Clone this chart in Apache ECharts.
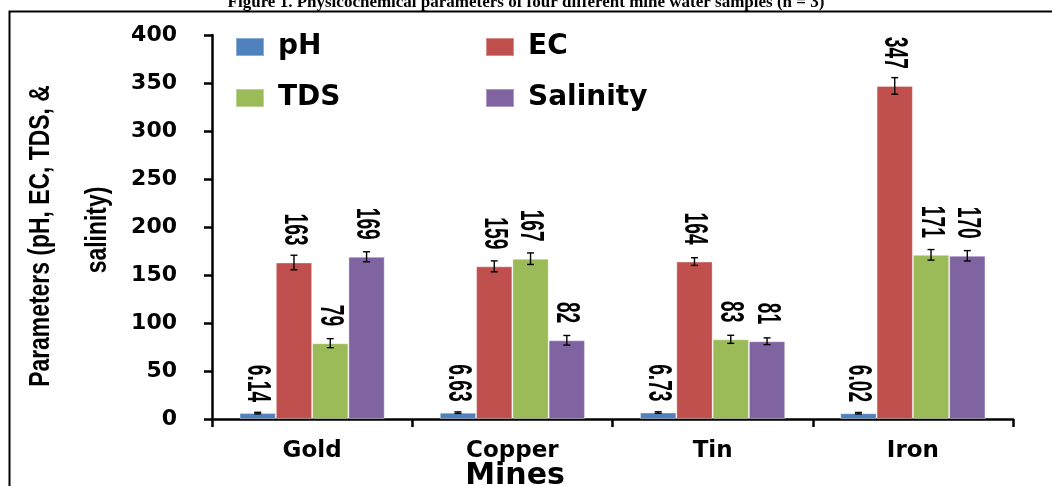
<!DOCTYPE html>
<html>
<head>
<meta charset="utf-8">
<title>Mine water parameters</title>
<script src="https://cdn.jsdelivr.net/npm/echarts@6/dist/echarts.min.js"></script>
<style>
  html, body { margin: 0; padding: 0; background: #fff; }
  #chart { width: 1052px; height: 486px; }
</style>
</head>
<body>
<div id="chart"></div>
<script>
// Mean values (n = 3) and standard deviations for each mine type
const categories = ['Gold', 'Copper', 'Tin', 'Iron'];
const seriesNames = ['pH', 'EC', 'TDS', 'Salinity'];
const phValues = [6.14, 6.63, 6.73, 6.02];
const phErrors = [0.8, 0.8, 0.8, 0.8];
const ecValues = [163, 159, 164, 347];
const ecErrors = [7.6, 5.7, 4.0, 8.6];
const tdsValues = [79, 167, 83, 171];
const tdsErrors = [4.7, 6.0, 4.2, 5.5];
const salinityValues = [169, 82, 81, 170];
const salinityErrors = [5.2, 5.0, 3.5, 5.4];
const yTicks = [0, 50, 100, 150, 200, 250, 300, 350, 400];
const yTitleLines = ['Parameters (pH, EC, TDS, &', 'salinity)'];

const colors = ['#4F81BD', '#C0504D', '#9BBB59', '#8064A2'];
const valueSets = [phValues, ecValues, tdsValues, salinityValues];
const errorSets = [phErrors, ecErrors, tdsErrors, salinityErrors];
const labelDistances = [11, 17, 17, 17];

const CAT_GAP = 0.275;          // share of each category left empty
const WIDE = "'DejaVu Sans', Verdana, sans-serif";
// condensed look: Liberation Sans Bold squeezed along the text direction
const NARROW_FONT = "bold 34px 'Liberation Sans', Arial, sans-serif";
const NARROW_SCALE = 0.565;

const chart = echarts.init(document.getElementById('chart'));

const barSeries = seriesNames.map((name, i) => ({
  name: name,
  type: 'bar',
  barGap: '0%',
  barCategoryGap: (CAT_GAP * 100) + '%',
  data: valueSets[i],
  itemStyle: {
    color: colors[i],
    borderColor: 'rgba(255,255,255,0.35)',
    borderWidth: 1
  },
  emphasis: { disabled: true }
}));

// Error bars and rotated value labels, offset to each bar's centre
const errorData = [];
seriesNames.forEach((name, s) => {
  categories.forEach((c, k) => {
    errorData.push([k, valueSets[s][k], errorSets[s][k], s]);
  });
});

const errorSeries = {
  type: 'custom',
  name: 'error',
  z: 5,
  silent: true,
  data: errorData,
  encode: { x: 0, y: 1 },
  renderItem: function (params, api) {
    const k = api.value(0);
    const v = api.value(1);
    const e = api.value(2);
    const s = api.value(3);
    const band = api.size([1, 0])[0];
    const barW = band * (1 - CAT_GAP) / seriesNames.length;
    const top = api.coord([k, v]);
    const x = top[0] + (s - (seriesNames.length - 1) / 2) * barW;
    const yHi = api.coord([k, v + e])[1];
    const yLo = api.coord([k, v - e])[1];
    const cap = 3.5;
    const style = { stroke: '#000', lineWidth: 1.4 };
    const text = s === 0 ? v.toFixed(2) : String(v);
    return {
      type: 'group',
      children: [
        { type: 'line', shape: { x1: x, y1: yHi, x2: x, y2: yLo }, style: style },
        { type: 'line', shape: { x1: x - cap, y1: yHi, x2: x + cap, y2: yHi }, style: style },
        { type: 'line', shape: { x1: x - cap, y1: yLo, x2: x + cap, y2: yLo }, style: style },
        {
          type: 'text',
          x: x,
          y: top[1] - labelDistances[s],
          rotation: -Math.PI / 2,
          scaleX: NARROW_SCALE,
          scaleY: 1,
          style: {
            text: text,
            font: NARROW_FONT,
            fill: '#000',
            align: 'right',
            verticalAlign: 'middle'
          }
        }
      ]
    };
  }
};

const legendSlots = [
  { left: 230, top: 28 },
  { left: 480, top: 28 },
  { left: 230, top: 79 },
  { left: 480, top: 79 }
];

const option = {
  animation: false,
  backgroundColor: '#fff',
  title: {
    text: 'Figure 1. Physicochemical parameters of four different mine water samples (n = 3)',
    left: 'center',
    top: -11,
    textStyle: {
      fontFamily: "'Liberation Serif', 'Times New Roman', serif",
      fontWeight: 'bold',
      fontSize: 17,
      color: '#000'
    }
  },
  legend: seriesNames.map((name, i) => ({
    data: [name],
    left: legendSlots[i].left,
    top: legendSlots[i].top,
    icon: 'rect',
    itemWidth: 28,
    itemHeight: 18,
    selectedMode: false,
    textStyle: {
      fontFamily: WIDE,
      fontWeight: 'bold',
      fontSize: 28,
      color: '#000',
      padding: [0, 0, 0, 9]
    }
  })),
  grid: { left: 212, right: 39, top: 35, bottom: 67, containLabel: false, outerBoundsMode: 'none' },
  xAxis: {
    type: 'category',
    data: categories,
    boundaryGap: true,
    name: 'Mines',
    nameLocation: 'middle',
    nameGap: 42,
    nameMoveOverlap: false,
    nameTextStyle: {
      fontFamily: WIDE,
      fontWeight: 'bold',
      fontSize: 30,
      color: '#000',
      padding: [0, 195, 0, 0]
    },
    axisLine: { show: true, lineStyle: { color: '#000', width: 2.5 } },
    axisTick: { show: true, length: 8, lineStyle: { color: '#000', width: 2.5 } },
    axisLabel: {
      margin: 21,
      fontFamily: WIDE,
      fontWeight: 'bold',
      fontSize: 23,
      color: '#000'
    },
    splitLine: { show: false }
  },
  yAxis: {
    type: 'value',
    min: yTicks[0],
    max: yTicks[yTicks.length - 1],
    interval: yTicks[1] - yTicks[0],
    axisLine: { show: true, lineStyle: { color: '#000', width: 2.5 } },
    axisTick: { show: true, length: 8, lineStyle: { color: '#000', width: 2.5 } },
    axisLabel: {
      margin: 35,
      fontFamily: WIDE,
      fontWeight: 'bold',
      fontSize: 22,
      color: '#000'
    },
    splitLine: { show: false }
  },
  graphic: [
    {
      type: 'rect',
      left: 7,
      top: 9,
      z: -10,
      shape: { width: 1200, height: 700 },
      style: { fill: 'none', stroke: '#000', lineWidth: 2 }
    },
    {
      type: 'text',
      x: 41,
      y: 236,
      rotation: Math.PI / 2,
      scaleX: 0.79,
      style: { text: yTitleLines[0], font: "bold 29px 'Liberation Sans', Arial, sans-serif", fill: '#000', align: 'center', verticalAlign: 'middle' }
    },
    {
      type: 'text',
      x: 98,
      y: 230,
      rotation: Math.PI / 2,
      scaleX: 0.79,
      style: { text: yTitleLines[1], font: "bold 29px 'Liberation Sans', Arial, sans-serif", fill: '#000', align: 'center', verticalAlign: 'middle' }
    }
  ],
  series: barSeries.concat([errorSeries])
};

chart.setOption(option);
</script>
</body>
</html>
